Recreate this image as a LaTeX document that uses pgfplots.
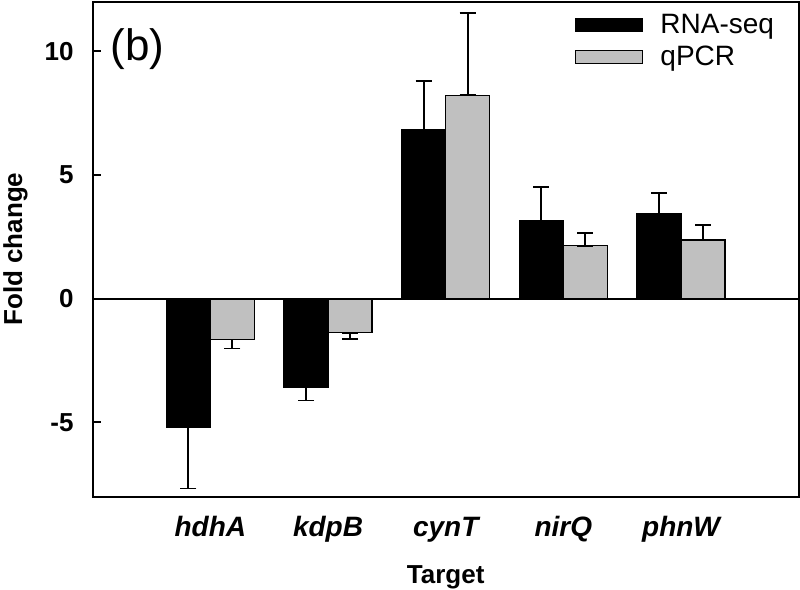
\documentclass[border=0pt]{standalone}
\usepackage{fontspec}
\setmainfont{Liberation Sans}
\usepackage{pgfplots}
\pgfplotsset{compat=1.18}
\usepackage{pgfplotstable}
\definecolor{barg}{RGB}{192,192,192}

\pgfplotstableread{
x y ep em
1 -5.20 0 2.47
2 -3.59 0 0.52
3 6.83 1.97 0
4 3.15 1.37 0
5 3.42 0.85 0
}\rnaseq
\pgfplotstableread{
x y ep em
1 -1.65 0 0.36
2 -1.38 0 0.24
3 8.22 3.31 0
4 2.14 0.50 0
5 2.37 0.62 0
}\qpcr

\begin{document}
\begin{tikzpicture}
\begin{axis}[
  name=ax,
  scale only axis, width=353pt, height=247.5pt,
  xmin=0, xmax=6, ymin=-8, ymax=12,
  ybar=0pt, bar width=22pt,
  axis line style={line width=1pt},
  xtick={1,2,3,4,5},
  xticklabels={hdhA,kdpB,cynT,nirQ,phnW},
  x tick style={draw=none},
  ytick={-5,0,5,10},
  ytick pos=left, xtick pos=bottom,
  tick align=inside,
  major tick length=4pt,
  y tick style={black, line width=1pt},
  /pgf/number format/assume math mode=true,
  yticklabel style={font=\bfseries\fontsize{13}{15}\selectfont, anchor=east, inner sep=0pt, xshift=-9.35pt},
  xticklabel style={font=\bfseries\itshape\fontsize{14}{16}\selectfont, anchor=base, inner sep=0pt, yshift=-20pt},
  xlabel={Target},
  xlabel style={font=\bfseries\fontsize{13}{15}\selectfont, at={(rel axis cs:0.5,0)}, anchor=base, inner sep=0pt, yshift=-43.3pt},
  every axis y label/.style={at={([xshift=-38.6pt]rel axis cs:0,0.5)}, rotate=90, anchor=center, inner sep=0pt},
  ylabel={Fold change},
  ylabel style={font=\bfseries\fontsize{13}{15}\selectfont},
  legend style={at={(rel axis cs:0,1)}, anchor=north west, xshift=241.15pt, yshift=-6.2pt,
    draw=none, fill=none, inner sep=0pt, outer sep=0pt, row sep=4.8pt, column sep=8.65pt,
    font=\fontsize{14}{16}\selectfont, nodes={inner sep=0pt}, cells={anchor=west}},
  error bars/y dir=both, error bars/y explicit,
  error bars/error mark options={rotate=90, mark size=4pt, line width=0.9pt, black},
  error bars/error bar style={line width=0.9pt, black},
]
\addplot[fill=black, draw=black, line width=0.6pt,
  legend image code/.code={\draw[fill=black, draw=black, line width=0.6pt] (0pt,-3.25pt) rectangle (33.5pt,3.25pt);}]
  table[x=x, y=y, y error plus=ep, y error minus=em]{\rnaseq};
\addlegendentry{RNA-seq}
\addplot[fill=barg, draw=black, line width=0.6pt,
  legend image code/.code={\draw[fill=barg, draw=black, line width=0.6pt] (0pt,-3.25pt) rectangle (33.5pt,3.25pt);}]
  table[x=x, y=y, y error plus=ep, y error minus=em]{\qpcr};
\addlegendentry{qPCR}
\draw[line width=0.9pt] (axis cs:0,0) -- (axis cs:6,0);
\node[anchor=west, font=\fontsize{22}{26}\selectfont, inner sep=0pt, xshift=8.65pt, yshift=-23.75pt] at (rel axis cs:0,1) {(b)};
\end{axis}
\pgfresetboundingbox
\useasboundingbox ([xshift=-46.35pt,yshift=-46.65pt]ax.south west) rectangle ([xshift=0.65pt,yshift=0.85pt]ax.north east);
\end{tikzpicture}
\end{document}
